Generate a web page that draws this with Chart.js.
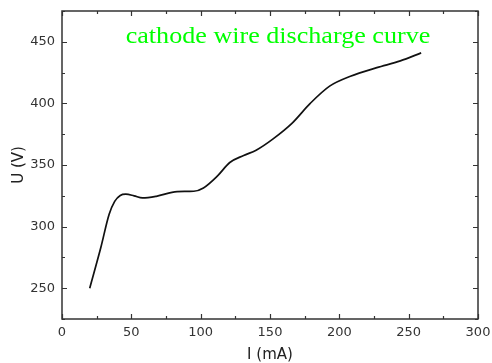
<!DOCTYPE html>
<html>
<head>
<meta charset="utf-8">
<title>cathode wire discharge curve</title>
<script src="https://cdn.jsdelivr.net/npm/chart.js@4/dist/chart.umd.min.js"></script>
<style>
  html, body { margin: 0; padding: 0; background: #ffffff; }
  #wrap { width: 492px; height: 363px; }
</style>
</head>
<body>
<div id="wrap"><canvas id="chart" width="492" height="363"></canvas></div>
<script>
// Discharge current I (mA) and voltage U (V) along the measured curve
const currentMA = [20, 28, 34, 38, 42, 46, 52, 58, 68, 83, 95, 102, 112, 121, 131, 140, 152, 166, 179, 193, 208, 227, 244, 259];
const voltageV  = [250, 283, 310, 320.5, 325.3, 326.3, 325, 323.3, 324.6, 328.4, 328.7, 331.4, 341, 352, 357.7, 362, 371, 384, 400, 414, 422, 429, 434.5, 441];

// Axis tick labels
const xTicks = [0, 50, 100, 150, 200, 250, 300];
const yTicks = [250, 300, 350, 400, 450];

const titleText = 'cathode wire discharge curve';
const xTitle = 'I (mA)';
const yTitle = 'U (V)';

const points = currentMA.map((x, i) => ({ x: x, y: voltageV[i] }));

const sansFont = '"DejaVu Sans", "Liberation Sans", Arial, sans-serif';

// Frame with inward major and minor ticks on all four sides, plus the in-plot caption
const framePlugin = {
  id: 'frame',
  afterDatasetsDraw(chart) {
    const { ctx, chartArea: a, scales } = chart;
    const xs = scales.x, ys = scales.y;
    ctx.save();
    ctx.strokeStyle = '#333333';
    ctx.lineWidth = 1.5;
    ctx.strokeRect(a.left, a.top, a.right - a.left, a.bottom - a.top);
    ctx.lineWidth = 1.2;
    const xStep = xTicks[1] - xTicks[0];
    for (let v = xs.min; v <= xs.max; v += xStep / 2) {
      const px = Math.round(xs.getPixelForValue(v)) + 0.5;
      const len = (v % xStep === 0) ? 5 : 3;
      ctx.beginPath();
      ctx.moveTo(px, a.bottom); ctx.lineTo(px, a.bottom - len);
      ctx.moveTo(px, a.top); ctx.lineTo(px, a.top + len);
      ctx.stroke();
    }
    const yStep = yTicks[1] - yTicks[0];
    for (let v = yTicks[0] - yStep / 2; v <= ys.max; v += yStep / 2) {
      const py = Math.round(ys.getPixelForValue(v)) + 0.5;
      const len = (v % yStep === 0) ? 5 : 3;
      ctx.beginPath();
      ctx.moveTo(a.left, py); ctx.lineTo(a.left + len, py);
      ctx.moveTo(a.right, py); ctx.lineTo(a.right - len, py);
      ctx.stroke();
    }
    // caption, set in a slightly widened serif face
    ctx.fillStyle = '#00ff00';
    ctx.font = '22.5px "Liberation Serif", "Times New Roman", serif';
    ctx.textAlign = 'center';
    ctx.textBaseline = 'alphabetic';
    ctx.translate(278, 43);
    ctx.scale(1.16, 1);
    ctx.fillText(titleText, 0, 0);
    ctx.restore();
  }
};

new Chart(document.getElementById('chart'), {
  type: 'line',
  data: {
    datasets: [{
      data: points,
      borderColor: '#111111',
      borderWidth: 1.7,
      pointRadius: 0,
      fill: false,
      cubicInterpolationMode: 'monotone'
    }]
  },
  options: {
    responsive: false,
    animation: false,
    layout: { padding: { top: 11, right: 14, left: 0, bottom: 0 } },
    plugins: { legend: { display: false }, tooltip: { enabled: false } },
    scales: {
      x: {
        type: 'linear',
        min: 0, max: 300,
        afterFit(scale) { scale.height = 44; scale.paddingLeft = 0; scale.paddingRight = 0; },
        afterBuildTicks(scale) { scale.ticks = xTicks.map(v => ({ value: v })); },
        grid: { display: false, drawTicks: false },
        border: { display: false },
        ticks: { padding: 6, color: '#333333', font: { family: sansFont, size: 13 }, maxRotation: 0 },
        title: { display: true, text: xTitle, color: '#222222', font: { family: sansFont, size: 15, lineHeight: 1 }, padding: { top: 0, bottom: 0 } }
      },
      y: {
        type: 'linear',
        min: 225, max: 475,
        afterFit(scale) { scale.width = 62; scale.paddingTop = 0; scale.paddingBottom = 0; },
        afterBuildTicks(scale) { scale.ticks = yTicks.map(v => ({ value: v })); },
        grid: { display: false, drawTicks: false },
        border: { display: false },
        ticks: { padding: 7, color: '#333333', font: { family: sansFont, size: 13 } },
        title: { display: true, text: yTitle, color: '#222222', font: { family: sansFont, size: 15, lineHeight: 1 }, padding: { top: 11.5, bottom: 0 } }
      }
    }
  },
  plugins: [framePlugin]
});
</script>
</body>
</html>
